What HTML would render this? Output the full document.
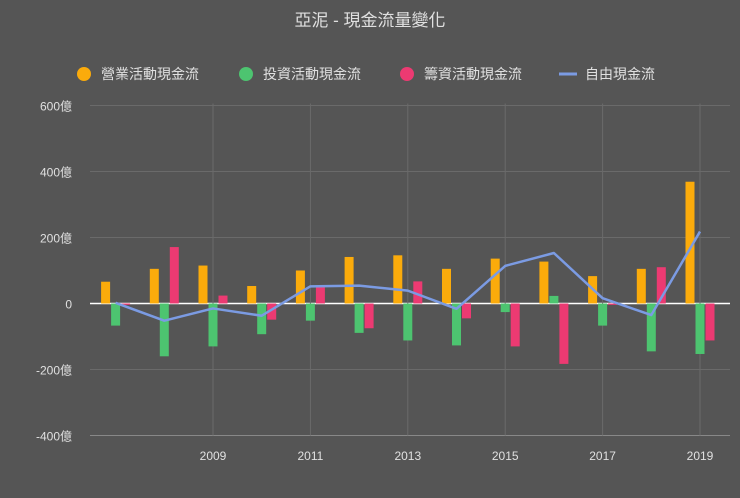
<!DOCTYPE html>
<html><head><meta charset="utf-8"><style>
body{margin:0;background:#555;font-family:"Liberation Sans","Noto Sans CJK TC",sans-serif;}
</style></head><body>
<svg id="c" width="740" height="493" xmlns="http://www.w3.org/2000/svg">
<rect width="740" height="493" fill="#555555"/>
<text x="370" y="26" text-anchor="middle" font-size="17" fill="#e0e0e0" font-family="Liberation Sans, Noto Sans CJK TC, sans-serif">亞泥 - 現金流量變化</text>
<g id="legend"></g>
<g id="grid"></g>
<g id="marks"></g>
</svg>
<script>
const years=[2007,2008,2009,2010,2011,2012,2013,2014,2015,2016,2017,2018,2019];
const operating=[66,105,115,53,100,141,146,105,136,127,83,105,369];
const investing=[-67,-160,-130,-93,-52,-89,-112,-127,-26,23,-67,-145,-153];
const financing=[-4,171,24,-49,52,-75,67,-45,-130,-183,-4,110,-112];
const freeCash=[2,-52,-15,-37,52,54,39,-16,114,153,16,-35,218];
const yTicks=[600,400,200,0,-200,-400];
const yLabels=["600億","400億","200億","0","-200億","-400億"];
const xTickYears=[2009,2011,2013,2015,2017,2019];
const NS="http://www.w3.org/2000/svg";
const svg=document.getElementById('c');
function yS(v){return 303.5-v*0.33;}
function xS(yr){return 213+(yr-2009)*48.7;}
function mk(tag,attrs,parent){const e=document.createElementNS(NS,tag);for(const k in attrs)e.setAttribute(k,attrs[k]);(parent||svg).appendChild(e);return e;}
const grid=document.getElementById('grid'),marks=document.getElementById('marks'),leg=document.getElementById('legend');
yTicks.forEach((t,i)=>{
  const l=mk('line',{x1:90,x2:730,y1:yS(t),y2:yS(t),stroke:t===0?'#ffffff':(t===-400?'#888':'#6a6a6a'),'stroke-width':t===0?1.5:1},grid);
  
  
  const tx=mk('text',{x:72,y:yS(t)+5,'text-anchor':'end','font-size':12,fill:'#e0e0e0'},grid);
  tx.textContent=yLabels[i];
  
  
});
xTickYears.forEach(yr=>{
  const l=mk('line',{x1:xS(yr),x2:xS(yr),y1:yS(600)-2,y2:yS(-400),stroke:'#6a6a6a'},grid);
  
  
  const tx=mk('text',{x:xS(yr),y:460,'text-anchor':'middle','font-size':12,fill:'#e0e0e0'},grid);
  tx.textContent=String(yr);
  
  
});
const series=[[operating,'#fbab0b',-10,'operating-bar'],[investing,'#4dc470',0,'investing-bar'],[financing,'#ec3a72',10,'financing-bar']];
series.forEach(([vals,col,off,name])=>{
  vals.forEach((v,i)=>{
    const y0=yS(0),y1=yS(v);
    const r=mk('rect',{x:xS(years[i])+off-4.5,y:Math.min(y0,y1),width:9,height:Math.abs(y1-y0),fill:col},marks);
    
    
  });
});
const pts=freeCash.map((v,i)=>xS(years[i])+','+yS(v)).join(' ');
const pl=mk('polyline',{points:pts,fill:'none',stroke:'#7b9be3','stroke-width':2.5,'stroke-linejoin':'round'},marks);


const legItems=[['營業活動現金流','#fbab0b',84,'dot'],['投資活動現金流','#4dc470',246,'dot'],['籌資活動現金流','#ec3a72',407,'dot'],['自由現金流','#7b9be3',568,'line']];
legItems.forEach(([label,col,x,kind])=>{
  const g=mk('g',{},leg);
  
  
  if(kind==='dot')mk('circle',{cx:x,cy:74,r:7,fill:col},g);
  else mk('line',{x1:x-9,x2:x+9,y1:74,y2:74,stroke:col,'stroke-width':3},g);
  const t=mk('text',{x:x+17,y:79,'font-size':14,fill:'#e0e0e0'},g);
  t.textContent=label;
});
</script>
</body></html>
